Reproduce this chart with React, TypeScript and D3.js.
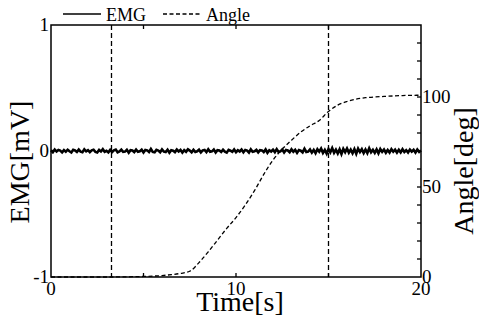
import React from 'react';
import * as d3 from 'd3';

// Joint angle trajectory [deg] sampled at selected times [s]
const angleTimes = [0, 3, 5, 6, 6.5, 7, 7.5, 8, 8.5, 9, 9.5, 10, 10.5, 11, 11.5, 12, 12.5, 13, 13.5, 14, 14.5, 15, 15.5, 16, 16.5, 17, 18, 19, 20];
const angleValues = [0, 0, 0.3, 0.8, 1.3, 2, 3.2, 8, 14, 20.5, 27, 33, 40, 48, 57, 65, 71, 76, 80.5, 84, 87, 92, 95.5, 97.5, 98.8, 99.6, 100.3, 100.8, 101];

// EMG samples every 0.1 s, in µV (converted to mV when drawn)
const emgStep = 0.1;
const emgMicroVolts = [
  6, -9, 12, -4, 8, 3, -11, 7, -6, 10, -2, -12, 9, 4, -8, 11, -5, -10, 13, -3,
  7, -9, 5, 10, -7, -12, 8, -4, 14, -6, 2, -11, 9, -8, 6, 12, -10, -3, 11, -7,
  -5, 9, -13, 7, 4, -9, 11, -6, -2, 10, -12, 8, 5, -8, 16, -7, -11, 9, 3, -10,
  12, -5, -8, 10, -13, 6, 2, -9, 11, -4, 8, -12, 7, -6, 13, 3, -10, 9, -7, -2,
  10, -11, 5, 8, -9, 14, -6, -3, 11, -12, 7, 4, -8, 10, -5, -13, 9, 2, -7, 12,
  -9, 6, -4, 11, -10, 8, 3, -12, 13, -6, -2, 9, -11, 7, 5, -8, 12, -14, 6, -4,
  10, -9, 15, -7, -3, 11, -12, 8, 4, -10, 13, -6, 9, -15, 7, 2, -11, 18, -8, -5,
  12, -13, 9, -17, 14, -6, 19, -15, 8, -21, 16, -11, 23, -14, 10, -19, 13, -24, 17, -9,
  20, -13, 11, -18, 15, -22, 19, -8, 14, -17, 12, -16, 21, -10, 9, -15, 13, -18, 16, -7,
  11, -14, 8, -12, 15, -6, 10, -13, 9, -11, 14, -8, 6, -12, 11, -5, 9, -13, 12, -7, 4,
];

// Event markers [s]
const markerTimes = [3.27, 15.0];

// Axes
const timeTicks = [0, 10, 20];
const timeInnerTicks = [5, 10, 15];
const emgTicks = [-1, 0, 1];
const angleTicks = [0, 50, 100];
const angleInnerTicks = [10, 20, 30, 40, 50, 60, 70, 80, 90, 100, 110, 120, 130];

const legendItems = [
  { label: 'EMG', dash: 'none' },
  { label: 'Angle', dash: '4,2.5' },
];

const W = 479;
const H = 322;
const left = 51;
const right = 421;
const top = 25;
const bottom = 277;
const font = '"Liberation Serif", "Times New Roman", serif';

export default function App() {
  const x = d3.scaleLinear().domain([0, 20]).range([left, right]);
  const yEmg = d3.scaleLinear().domain([-1, 1]).range([bottom, top]);
  const yAngle = d3.scaleLinear().domain([0, 140]).range([bottom, top]);

  const emgLine = d3
    .line<number>()
    .x((_, i) => x(i * emgStep))
    .y((v) => yEmg(v / 1000));
  const angleLine = d3
    .line<number>()
    .x((_, i) => x(angleTimes[i]))
    .y((v) => yAngle(v))
    .curve(d3.curveMonotoneX);

  const tickLen = 4;

  return (
    <svg
      width={W}
      height={H}
      style={{ position: 'absolute', left: 0, top: 0, background: '#fff' }}
      fontFamily={font}
    >
      <rect width={W} height={H} fill="#fff" />

      {/* event markers */}
      {markerTimes.map((t) => (
        <line key={t} x1={x(t)} x2={x(t)} y1={top} y2={bottom} stroke="#000" strokeWidth={1.3} strokeDasharray="5,3" />
      ))}

      {/* data */}
      <path d={emgLine(emgMicroVolts) ?? ''} fill="none" stroke="#000" strokeWidth={2.6} strokeLinejoin="miter" />
      <path d={angleLine(angleValues) ?? ''} fill="none" stroke="#000" strokeWidth={1.3} strokeDasharray="4,2.5" />

      {/* frame */}
      <rect x={left} y={top} width={right - left} height={bottom - top} fill="none" stroke="#000" strokeWidth={1.5} />

      {/* time ticks (inward, top and bottom) */}
      {timeInnerTicks.map((t) => (
        <g key={t}>
          <line x1={x(t)} x2={x(t)} y1={top} y2={top + tickLen} stroke="#000" strokeWidth={1.3} />
          <line x1={x(t)} x2={x(t)} y1={bottom} y2={bottom - tickLen} stroke="#000" strokeWidth={1.3} />
        </g>
      ))}
      {timeTicks.map((t) => (
        <text key={t} x={x(t)} y={bottom + 18} fontSize={19} textAnchor="middle">
          {t}
        </text>
      ))}

      {/* EMG axis labels */}
      {emgTicks.map((v) => (
        <text key={v} x={left - 2} y={yEmg(v) + 6} fontSize={19} textAnchor="end">
          {v}
        </text>
      ))}

      {/* angle axis ticks (inward) */}
      {angleInnerTicks.map((v) => (
        <line key={v} x1={right} x2={right - tickLen} y1={yAngle(v)} y2={yAngle(v)} stroke="#000" strokeWidth={1.3} />
      ))}
      {angleTicks.map((v) => (
        <text key={v} x={right + 1} y={yAngle(v) + 6} fontSize={19} textAnchor="start">
          {v}
        </text>
      ))}

      {/* axis titles */}
      <text x={(left + right) / 2 + 4} y={311} fontSize={28} textAnchor="middle">
        Time[s]
      </text>
      <text transform={`translate(29,${(top + bottom) / 2 + 11}) rotate(-90)`} fontSize={28} textAnchor="middle">
        EMG[mV]
      </text>
      <text transform={`translate(473,${(top + bottom) / 2 + 20}) rotate(-90)`} fontSize={28} textAnchor="middle">
        Angle[deg]
      </text>

      {/* legend */}
      {legendItems.map((item, i) => {
        const lx = i === 0 ? 63 : 163;
        return (
          <g key={item.label}>
            <line x1={lx} x2={lx + 38} y1={14} y2={14} stroke="#000" strokeWidth={1.4} strokeDasharray={item.dash} />
            <text x={lx + 43} y={21} fontSize={18}>
              {item.label}
            </text>
          </g>
        );
      })}
    </svg>
  );
}
